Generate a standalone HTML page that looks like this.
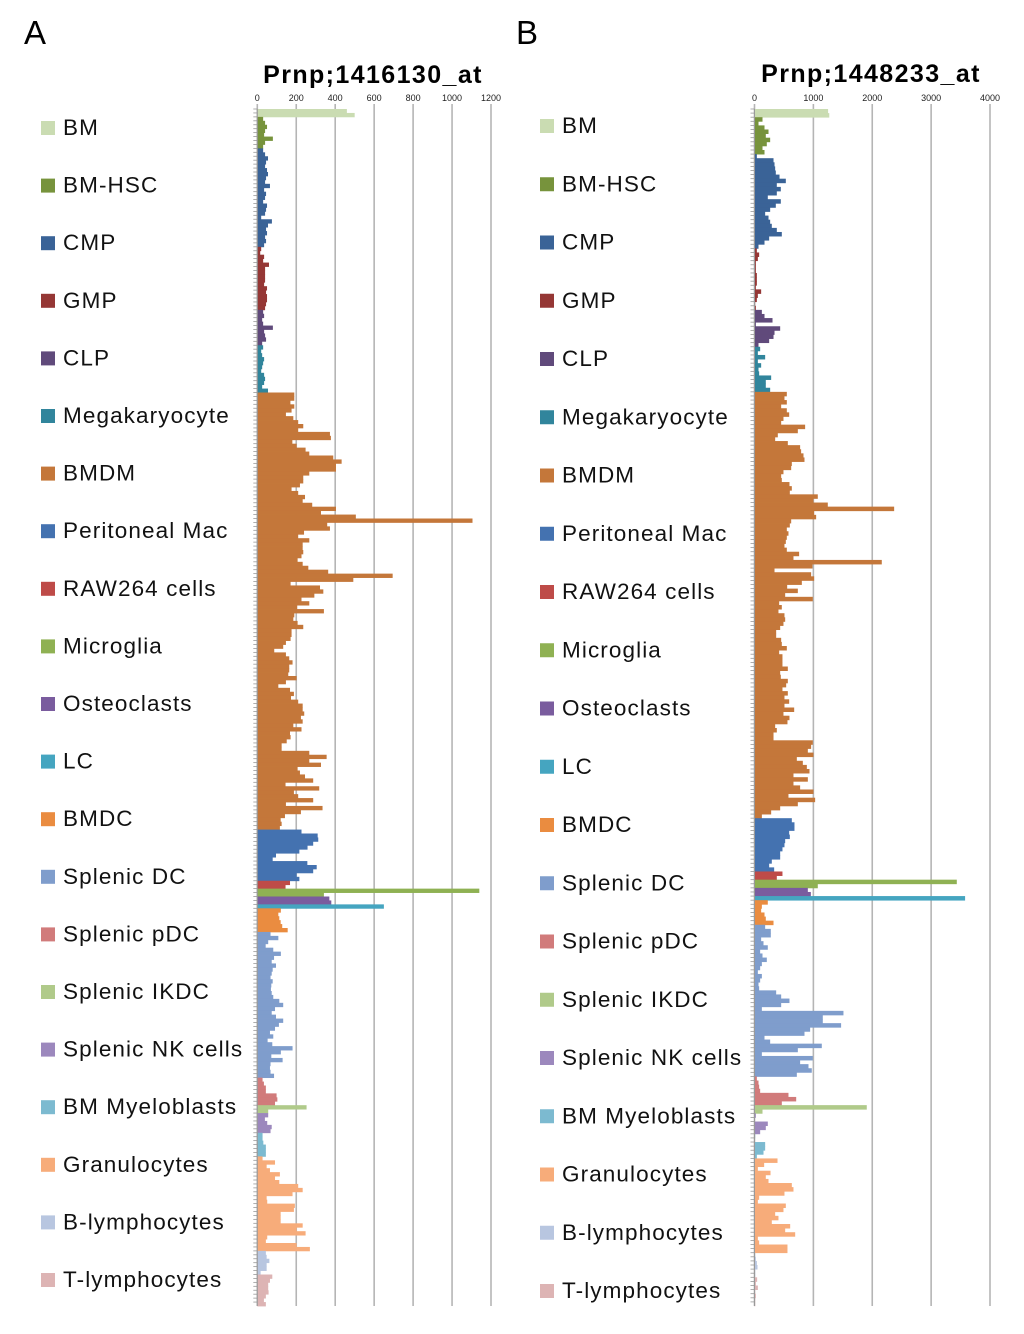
<!DOCTYPE html>
<html><head><meta charset="utf-8"><style>
body{margin:0;background:#fff;}
svg{display:block;font-family:"Liberation Sans",sans-serif;}
</style></head><body>
<svg id="chart" width="1024" height="1334" viewBox="0 0 1024 1334">
<text x="24" y="44" font-size="33">A</text>
<text x="516" y="44" font-size="33">B</text>
<text x="373" y="83" font-size="25" font-weight="bold" letter-spacing="1.4" text-anchor="middle">Prnp;1416130_at</text>
<text x="871" y="82" font-size="25" font-weight="bold" letter-spacing="1.4" text-anchor="middle">Prnp;1448233_at</text>
<g id="gA"></g>
<g id="gB"></g>
<g id="legA"></g>
<g id="legB"></g>
</svg>
<script>
const categories = ["BM","BM-HSC","CMP","GMP","CLP","Megakaryocyte","BMDM","Peritoneal Mac","RAW264 cells","Microglia","Osteoclasts","LC","BMDC","Splenic DC","Splenic pDC","Splenic IKDC","Splenic NK cells","BM Myeloblasts","Granulocytes","B-lymphocytes","T-lymphocytes"];
const colors = ["#cadcb2","#77933c","#3a6397","#953735","#604a7b","#31859c","#c4773a","#4472b0","#be4b48","#8fb153","#7a5c9e","#45a5c0","#ea8c40","#7f9dcc","#d17b7b","#b0ca8a","#9c88bd","#7cbad0","#f7ac7a","#b8c6e0","#ddb4b4"];
const ticksA = [0,200,400,600,800,1000,1200];
const ticksB = [0,1000,2000,3000,4000];
const valuesA = [
[460,500],
[30,40,50,40,35,80,40,30],
[30,40,55,45,40,50,55,45,40,65,35,45,40,30,50,45,40,20,75,55,45,50,40,45,35],
[20,15,35,30,60,40,40,40,40,35,50,45,50,50,45,40],
[30,35,25,30,80,35,40,45,25],
[30,20,25,35,30,25,20,35,40,35,25,55],
[190,190,170,190,176,147,185,210,236,210,373,378,180,202,248,267,390,433,404,404,267,236,236,219,176,210,245,233,282,404,327,506,1105,359,373,240,210,267,233,233,236,227,207,233,262,364,695,493,171,322,339,293,227,267,205,342,190,185,207,236,176,176,171,147,133,87,147,164,181,164,164,159,202,147,108,168,188,173,210,233,233,241,224,233,185,227,168,171,151,125,125,267,356,267,327,207,219,245,287,145,318,188,210,287,147,335,224,142,120,125,116],
[227,310,313,287,258,216,96,79,257,305,287,202,216],
[168,145],
[1140,342],
[370,380],
[650],
[121,108,113,120,128,156],
[68,108,56,43,82,121,86,74,96,79,74,68,79,72,70,74,82,113,133,91,74,96,133,111,91,65,82,53,77,181,121,72,130,68,65,68,86],
[27,34,44,44,99,103,91],
[253,56],
[56,39,51,74,68],
[27,27,31,44,44,44],
[27,91,48,65,116,91,113,210,233,181,48,51,193,188,120,120,120,233,202,248,51,44,202,270],
[44,48,62,48,48,17],
[77,65,56,56,58,44,34,44]
];
const valuesB = [
[1250,1270],
[136,68,170,238,192,266,209,136,170],
[40,323,340,351,362,425,532,379,447,379,226,447,362,266,181,238,266,294,379,464,249,170,68],
[40,79,57,23,23,23,40,40,40,23,113,57,40,11,23],
[125,170,306,23,436,340,323,249,68],
[96,57,181,57,113,68,79,283,192,192,266],
[549,509,549,453,549,589,492,453,860,736,396,351,566,775,792,832,849,634,623,492,453,464,594,634,600,1075,1002,1245,2372,1013,1047,623,600,549,577,549,532,509,549,758,662,2162,985,340,962,1013,804,555,736,521,990,419,464,407,509,521,492,436,368,368,453,464,549,419,475,475,475,566,436,447,566,538,475,566,509,589,509,674,492,594,560,351,379,323,323,990,962,906,1002,719,821,889,934,662,906,662,775,1002,577,1030,736,436,283,125],
[634,679,679,589,600,521,509,475,436,436,294,249,334],
[475,379],
[3436,1075],
[906,957],
[3577],
[226,125,113,170,192,323],
[181,277,277,113,153,226,96,136,209,125,96,57,125,96,68,79,368,453,594,453,125,1511,1160,1160,1471,945,849,170,266,1143,736,125,990,775,917,973,719],
[40,68,79,96,577,708,464],
[1907,136],
[23,5,226,192,96],
[11,5,181,181,153,40],
[391,164,57,272,192,238,634,662,509,79,57,532,492,351,407,294,606,521,691,57,79,560,560],
[11,23,40,51,11,11],
[45,23,57,11,23,11,11]
];
const NS="http://www.w3.org/2000/svg";
function mk(tag,attrs,parent){const e=document.createElementNS(NS,tag);for(const k in attrs)e.setAttribute(k,attrs[k]);parent.appendChild(e);return e;}

function drawPanel(g, values, ticks, x0, x1, maxV, pfx){
  const top=109, bottom=1306;
  const xs=v=>x0+(v/maxV)*(x1-x0);
  ticks.forEach(t=>{
    const gl=mk('line',{x1:xs(t),x2:xs(t),y1:104,y2:bottom,stroke:'#b5b5b5','stroke-width':1.6},g);
    
    
    const tl=mk('text',{x:xs(t),y:101,'font-size':9,'text-anchor':'middle',fill:'#222'},g);
    tl.textContent=t;
    
    
  });
  let n=0; values.forEach(a=>n+=a.length);
  const band=(bottom-top)/n;
  const ys=i=>top+i*band;
  let i=0;
  values.forEach((arr,gi)=>{
    arr.forEach(v=>{
      const r=mk('rect',{x:x0,y:ys(i),width:Math.max(0.5,xs(v)-x0),height:band+0.4,fill:colors[gi]},g);
      
      
      const tk=mk('line',{x1:x0-4,x2:x0,y1:ys(i),y2:ys(i),stroke:'#999','stroke-width':0.8},g);
      
      
      i++;
    });
  });
  const ax=mk('line',{x1:x0,x2:x0,y1:top,y2:bottom,stroke:'#999','stroke-width':1},g);
  
  
}
drawPanel(document.getElementById('gA'), valuesA, ticksA, 257.3, 491, 1200, 'panel-a');
drawPanel(document.getElementById('gB'), valuesB, ticksB, 754.5, 990, 4000, 'panel-b');

function drawLegend(g, sx, tx, y0, step, pfx){
  categories.forEach((c,k)=>{
    const y=y0+k*step;
    const s=mk('rect',{x:sx,y:y-13,width:14,height:14,fill:colors[k]},g);
    
    
    const t=mk('text',{x:tx,y:y+1,'font-size':22.5,'letter-spacing':1.1,fill:'#111'},g);
    t.textContent=c;
    
    
  });
}
drawLegend(document.getElementById('legA'), 41, 63, 134, 57.6, 'panel-a');
drawLegend(document.getElementById('legB'), 540, 562, 132, 58.25, 'panel-b');
</script>
</body></html>
